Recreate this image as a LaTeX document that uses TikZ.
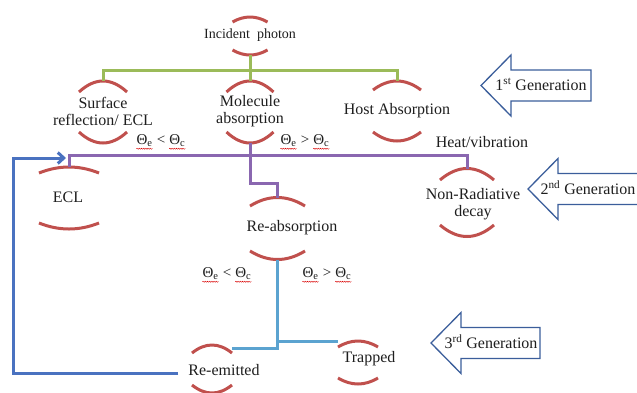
\documentclass[tikz,border=0pt]{standalone}
\usepackage{fontspec}
\setmainfont{Liberation Serif}
\usepackage{tikz}
\usetikzlibrary{positioning,calc,arrows.meta,decorations.pathmorphing}

\definecolor{arcred}{HTML}{C0504D}
\definecolor{busgreen}{HTML}{9BBB59}
\definecolor{buspurple}{HTML}{8A67B0}
\definecolor{busaqua}{HTML}{5BA3D0}
\definecolor{loopblue}{HTML}{4A72C0}
\definecolor{genblue}{HTML}{3B5E9B}
\definecolor{textgray}{HTML}{1E1E1E}

\tikzset{
	lbl/.style={inner sep=0pt, align=center, text=textgray, font=\fontsize{16}{17}\selectfont},
	small/.style={font=\fontsize{14}{16}\selectfont},
	cond/.style={font=\fontsize{15}{17}\selectfont},
	arcline/.style={draw=arcred, line width=3pt},
	greenline/.style={draw=busgreen, line width=3pt},
	purpleline/.style={draw=buspurple, line width=3pt},
	aqualine/.style={draw=busaqua, line width=3pt},
	loopline/.style={draw=loopblue, line width=3pt},
	genarrow/.style={draw=genblue, fill=white, line width=1.3pt, line join=miter},
	spellwave/.style={draw=red!85!black, line width=.45pt, decorate, decoration={snake, amplitude=.5pt, segment length=2.2pt}}
}

% two red arcs round a label: name, centre, half width, half gap, sag
\newcommand{\lensarcs}[5]{
	\coordinate (#1-c) at #2;
	\draw[arcline] ($(#1-c)+(-#3,-#4)$) .. controls ($(#1-c)+(-#3/3,-#4-4*#5/3)$) and ($(#1-c)+(#3/3,-#4-4*#5/3)$) .. ($(#1-c)+(#3,-#4)$);
	\draw[arcline] ($(#1-c)+(-#3,#4)$) .. controls ($(#1-c)+(-#3/3,#4+4*#5/3)$) and ($(#1-c)+(#3/3,#4+4*#5/3)$) .. ($(#1-c)+(#3,#4)$);
	\coordinate (#1-top) at ($(#1-c)+(0,-#4-#5)$);
	\coordinate (#1-bot) at ($(#1-c)+(0,#4+#5)$);
	\coordinate (#1-tl) at ($(#1-c)+(-#3,-#4)$);
	\coordinate (#1-tr) at ($(#1-c)+(#3,-#4)$);
}
\newcommand{\spellmark}[1]{\tikz[baseline=(sm.base)]{\node[inner sep=0pt, anchor=center] (sm) {#1}; \draw[spellwave] ([yshift=-1.8pt]sm.south west) -- ([yshift=-1.8pt]sm.south east);}}

\begin{document}
\begin{tikzpicture}[x=1pt, y=-1pt]
	\useasboundingbox (0,0) rectangle (637,392);
	\clip (0,0) rectangle (637,392);

	% labels
	\node[lbl, small] (photon) at (250,35) {Incident\ \ photon};
	\node[lbl] (surface) at (103,111.5) {Surface\\reflection/ ECL};
	\node[lbl] (molecule) at (250,111.5) {Molecule\\absorption};
	\node[lbl] (host) at (397,111) {Host Absorption};
	\node[lbl] (ecl) at (68,197) {ECL};
	\node[lbl] (nonrad) at (473,204) {Non-Radiative\\decay};
	\node[lbl] (reabs) at (292,228) {Re-absorption};
	\node[lbl] (reemit) at (224,370) {Re-emitted};
	\node[lbl] (trapped) at (369,359) {Trapped};
	\node[lbl] (heat) at (482,142) {Heat/vibration};
	\node[lbl, cond] (cond1) at (161,142) {\spellmark{Θ\textsubscript{e}} < \spellmark{Θ\textsubscript{c}}};
	\node[lbl, cond] (cond2) at (305,142) {\spellmark{Θ\textsubscript{e}} > \spellmark{Θ\textsubscript{c}}};
	\node[lbl, cond] (cond3) at (227,275) {\spellmark{Θ\textsubscript{e}} < \spellmark{Θ\textsubscript{c}}};
	\node[lbl, cond] (cond4) at (327,275) {\spellmark{Θ\textsubscript{e}} > \spellmark{Θ\textsubscript{c}}};

	% arcs
	\lensarcs{photon}{(250,36)}{17.5}{14}{5}
	\lensarcs{surface}{(103,112)}{24}{20}{11}
	\lensarcs{molecule}{(250,112)}{23.5}{20}{11}
	\lensarcs{host}{(397,111)}{24}{21}{9}
	\lensarcs{ecl}{(69,198)}{30}{25}{6}
	\lensarcs{nonrad}{(467,202.5)}{27}{22.5}{11.5}
	\lensarcs{reabs}{(277.5,228.5)}{27.5}{22.5}{8.5}
	\lensarcs{reemit}{(212,369)}{20}{16}{8}
	\lensarcs{trapped}{(358,362.5)}{20}{15.5}{6}

	% 1st generation
	\draw[greenline] (photon-bot) -- (molecule-top);
	\draw[greenline] (photon-bot) -- ++(0,15) -| (surface-top);
	\draw[greenline] (photon-bot) -- ++(0,15) -| (host-top);
	% 2nd generation
	\draw[purpleline] (molecule-bot) -- ++(0,12) -| (ecl-top);
	\draw[purpleline] (molecule-bot) -- ++(0,12) -| (nonrad-top);
	\draw[purpleline] (molecule-bot) -- ++(0,40) -| (reabs-top);
	% 3rd generation
	\draw[aqualine] (reabs-bot) |- ([yshift=5pt]reemit-tr);
	\draw[aqualine] (reabs-bot) |- ([yshift=6pt]trapped-tl);
	\coordinate (loop) at (13,158);
	\draw[loopline, -{Straight Barb[length=6pt, width=11pt]}] ([xshift=-10pt, yshift=-3pt]reemit.west) -| (loop) -- ([xshift=-3pt]loop -| ecl-top);

	% generation arrows
	\foreach \tx/\ty/\rx/\gen/\sup [count=\i] in {481/85.5/591/1/st, 528/189/645/2/nd, 431/343/540/3/rd} {
		\draw[genarrow] (\tx,\ty) -- ++(30,-30.5) -- ++(0,15) -| (\rx,\ty+15.5) -- (\tx+30,\ty+15.5) -- ++(0,15) -- cycle;
		\node[lbl] (gen\i) at (\tx+60,\ty-1) {\gen\textsuperscript{\sup} Generation};
	}
\end{tikzpicture}
\end{document}
